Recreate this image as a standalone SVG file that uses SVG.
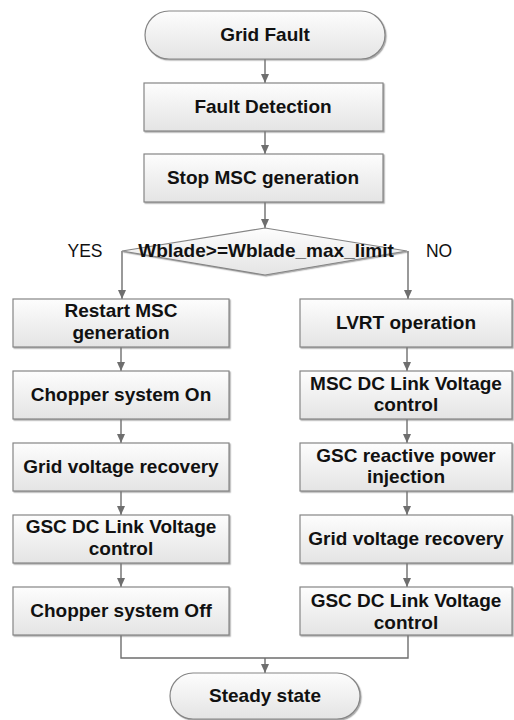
<svg xmlns="http://www.w3.org/2000/svg" width="514" height="720" viewBox="0 0 514 720">
<style>
.box{fill:url(#g);stroke:#858585;stroke-width:1.2;filter:url(#sh)}
.t{font-family:"Liberation Sans",Arial,sans-serif;font-weight:bold;font-size:19px;fill:#111;text-anchor:middle}
.lbl{font-family:"Liberation Sans",Arial,sans-serif;font-size:17.5px;fill:#111;text-anchor:middle}
.c{fill:none;stroke:#6e6e6e;stroke-width:1.4;marker-end:url(#a)}
.l{fill:none;stroke:#6e6e6e;stroke-width:1.4}
</style>
<defs>
<linearGradient id="g" x1="0" y1="0" x2="0" y2="1">
<stop offset="0" stop-color="#fdfdfd"/>
<stop offset="1" stop-color="#e4e4e4"/>
</linearGradient>
<filter id="sh" x="-5%" y="-10%" width="110%" height="125%">
<feDropShadow dx="1.2" dy="1.2" stdDeviation="0.6" flood-color="#777" flood-opacity="0.6"/>
</filter>
<marker id="a" markerWidth="9" markerHeight="8" refX="9" refY="4" orient="auto" markerUnits="userSpaceOnUse">
<path d="M0,0 L9,4 L0,8 Z" fill="#6e6e6e"/>
</marker>
</defs>
<g id="connectors">
<path class="c" d="M265,59 V83"/>
<path class="c" d="M265,131 V154"/>
<path class="c" d="M265,202 V228"/>
<path class="c" d="M122,251 V299"/>
<path class="c" d="M408,251 V299"/>
<path class="c" d="M121,347 V371"/>
<path class="c" d="M121,419 V443"/>
<path class="c" d="M121,491 V515"/>
<path class="c" d="M121,563 V587"/>
<path class="c" d="M407,347 V371"/>
<path class="c" d="M407,419 V443"/>
<path class="c" d="M407,491 V515"/>
<path class="c" d="M407,563 V587"/>
<path class="l" d="M121,635 V658 H408 V635"/>
<path class="c" d="M265,658 V673"/>
</g>
<g id="grid-fault">
<rect class="box" x="145" y="11" width="240" height="48" rx="24"/>
<text class="t" x="265" y="41">Grid Fault</text>
</g>
<g id="fault-detection">
<rect class="box" x="144" y="83" width="239" height="48"/>
<text class="t" x="263" y="113">Fault Detection</text>
</g>
<g id="stop-msc">
<rect class="box" x="144" y="154" width="239" height="48"/>
<text class="t" x="263" y="184">Stop MSC generation</text>
</g>
<g id="decision">
<polygon class="box" points="265,228 407,251 265,275 122,251"/>
<text class="t" x="266" y="257">Wblade&gt;=Wblade_max_limit</text>
</g>
<g id="yes-label"><text class="lbl" x="85" y="257">YES</text></g>
<g id="no-label"><text class="lbl" x="439" y="257">NO</text></g>
<g id="restart-msc">
<rect class="box" x="13" y="299" width="216" height="48"/>
<text class="t" x="121" y="317">Restart MSC</text>
<text class="t" x="121" y="339">generation</text>
</g>
<g id="chopper-on">
<rect class="box" x="13" y="371" width="216" height="48"/>
<text class="t" x="121" y="401">Chopper system On</text>
</g>
<g id="grid-recovery-left">
<rect class="box" x="13" y="443" width="216" height="48"/>
<text class="t" x="121" y="473">Grid voltage recovery</text>
</g>
<g id="gsc-dc-left">
<rect class="box" x="13" y="515" width="216" height="48"/>
<text class="t" x="121" y="533">GSC DC Link Voltage</text>
<text class="t" x="121" y="555">control</text>
</g>
<g id="chopper-off">
<rect class="box" x="13" y="587" width="216" height="48"/>
<text class="t" x="121" y="617">Chopper system Off</text>
</g>
<g id="lvrt">
<rect class="box" x="300" y="299" width="212" height="48"/>
<text class="t" x="406" y="329">LVRT operation</text>
</g>
<g id="msc-dc">
<rect class="box" x="300" y="371" width="212" height="48"/>
<text class="t" x="406" y="390">MSC DC Link Voltage</text>
<text class="t" x="406" y="411">control</text>
</g>
<g id="gsc-reactive">
<rect class="box" x="300" y="443" width="212" height="48"/>
<text class="t" x="406" y="462">GSC reactive power</text>
<text class="t" x="406" y="483">injection</text>
</g>
<g id="grid-recovery-right">
<rect class="box" x="300" y="515" width="212" height="48"/>
<text class="t" x="406" y="545">Grid voltage recovery</text>
</g>
<g id="gsc-dc-right">
<rect class="box" x="300" y="587" width="212" height="48"/>
<text class="t" x="406" y="607">GSC DC Link Voltage</text>
<text class="t" x="406" y="629">control</text>
</g>
<g id="steady-state">
<rect class="box" x="170" y="673" width="190" height="46" rx="23"/>
<text class="t" x="265" y="702">Steady state</text>
</g>
</svg>
